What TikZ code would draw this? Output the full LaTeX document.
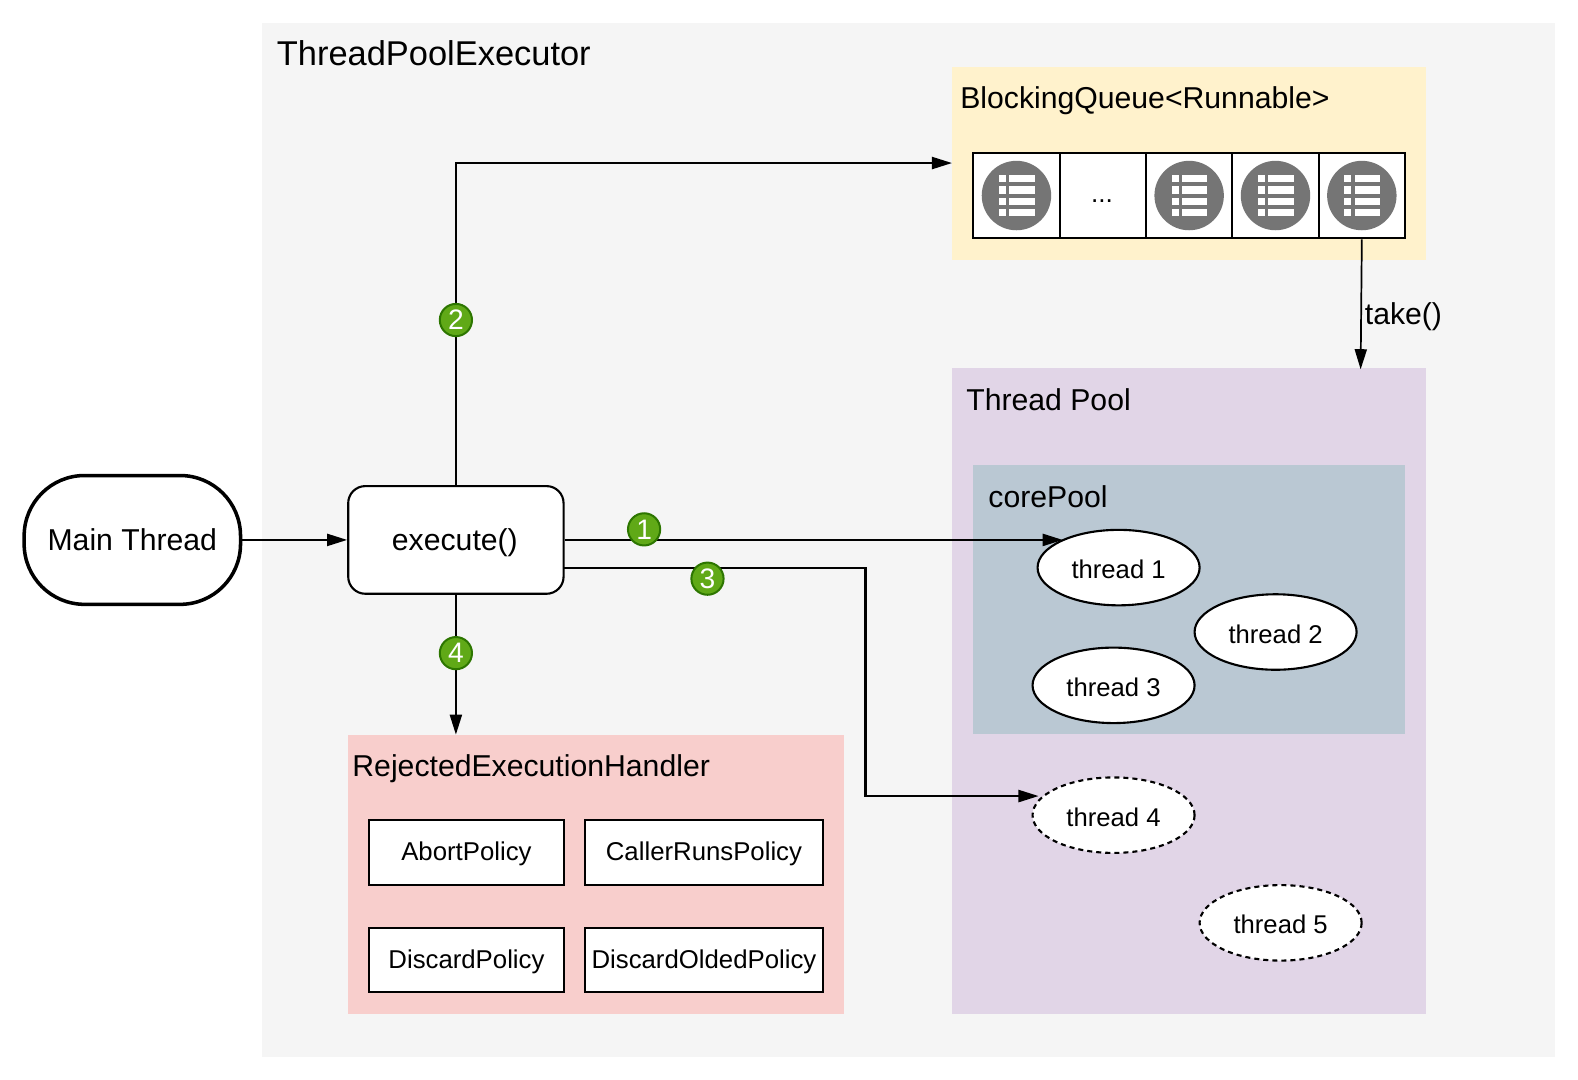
\documentclass[tikz,border=0pt]{standalone}
\usepackage{fontspec}
\setmainfont{Liberation Sans}
\usetikzlibrary{arrows.meta,shapes.geometric}
\definecolor{framebg}{HTML}{F5F5F5}
\definecolor{queuebg}{HTML}{FFF2CC}
\definecolor{poolbg}{HTML}{E1D5E7}
\definecolor{corebg}{HTML}{BAC8D3}
\definecolor{handlerbg}{HTML}{F8CECC}
\definecolor{badgebg}{HTML}{60A917}
\definecolor{badgeline}{HTML}{2D7600}
\definecolor{icongray}{HTML}{757575}
\newcommand{\px}[1]{\fontsize{#1}{#1}\selectfont}
\tikzset{
  panel/.style={anchor=north west,inner sep=0pt,outer sep=0pt},
  paneltitle/.style={anchor=base west,inner sep=0pt,font=\px{30}},
  flow/.style={line width=2.1pt,-{Triangle[length=20pt,width=12pt]}},
  thread/.style={ellipse,draw,line width=2.1pt,fill=white,minimum width=161pt,minimum height=75pt,inner sep=0pt,text height=22pt,text depth=0pt,font=\px{25.5}},
  spare/.style={thread,dashed,dash pattern=on 5pt off 4pt},
  policy/.style={draw,line width=2.1pt,fill=white,minimum height=64pt,inner sep=0pt,text depth=1.5pt,font=\px{25.6}},
  cell/.style={draw,line width=2.1pt,fill=white,minimum width=85.8pt,minimum height=85pt,inner sep=0pt},
  badge/.style={circle,draw=badgeline,line width=2pt,fill=badgebg,text=white,minimum size=32pt,inner sep=0pt,font=\px{28}}
}
\begin{document}
\begin{tikzpicture}[x=1pt,y=-1pt]
\useasboundingbox (0,0) rectangle (1568,1073);
\fill[white] (0,0) rectangle (1568,1073);
\node[panel,fill=framebg,minimum width=1284.5pt,minimum height=1027pt] (frame) at (260.5,23) {};
\node[paneltitle,font=\px{34.2}] (frametitle) at (275,65) {ThreadPoolExecutor};

\node[panel,fill=queuebg,minimum width=471pt,minimum height=191pt] (queue) at (946,67) {};
\node[paneltitle] (queuetitle) at (954,108) {BlockingQueue<Runnable>};
\foreach \n/\x in {1/1010,2/1095.8,3/1181.6,4/1267.4,5/1353.2}
    \node[cell] (cell\n) at (\x,194.3) {};
\foreach \n in {1,3,4,5}{
    \node[circle,fill=icongray,minimum size=69pt,inner sep=0pt] (icon\n) at (cell\n) {};
    \foreach \y in {-16.5,-5.5,5.5,16.5}{
        \fill[white,shift={(cell\n)}] (-17.5,\y-3.5) rectangle (-10.5,\y+3.5);
        \fill[white,shift={(cell\n)}] (-7,\y-3.5) rectangle (18,\y+3.5);
    }
}
\node[font=\px{26},inner sep=0pt] (dots) at (1095,200) {...};

\node[panel,fill=poolbg,minimum width=471pt,minimum height=641.5pt] (pool) at (946,366) {};
\node[paneltitle] (pooltitle) at (960,408) {Thread Pool};
\node[panel,fill=corebg,minimum width=429pt,minimum height=267pt] (core) at (967,462) {};
\node[paneltitle] (coretitle) at (982,504) {corePool};
\node[thread] (thread1) at (1111.5,564) {thread 1};
\node[thread] (thread2) at (1267.5,628) {thread 2};
\node[thread] (thread3) at (1106.5,681) {thread 3};
\node[spare] (thread4) at (1106.5,810) {thread 4};
\node[spare] (thread5) at (1272.5,917) {thread 5};

\node[panel,fill=handlerbg,minimum width=492.5pt,minimum height=277.5pt] (handler) at (346,730) {};
\node[paneltitle] (handlertitle) at (350,772) {RejectedExecutionHandler};
\node[policy,minimum width=193pt] (abort) at (463.5,847) {AbortPolicy};
\node[policy,minimum width=237pt] (caller) at (699.5,847) {CallerRunsPolicy};
\node[policy,minimum width=193pt] (discard) at (463.5,954) {DiscardPolicy};
\node[policy,minimum width=237pt] (oldest) at (699.5,954) {DiscardOldedPolicy};

\node[draw,line width=3.5pt,fill=white,rounded corners=60pt,minimum width=215pt,minimum height=128pt,inner sep=0pt,font=\px{30}] (main) at (131.5,536.5) {Main Thread};
\node[draw,line width=2.1pt,fill=white,rounded corners=17pt,minimum width=214pt,minimum height=107pt,inner sep=0pt,text depth=0pt,font=\px{30}] (execute) at (453,536.5) {\hspace{-2pt}execute()};

\coordinate (corner2) at (453,162);
\coordinate (queuein) at (946,162);
\coordinate (corein) at (1056,536.5);
\coordinate (execout) at (560,564);
\coordinate (corner3) at (860,564);
\coordinate (corner4) at (860,791);
\coordinate (spare4in) at (1032,791);
\coordinate (poolin) at (1352,367);
\coordinate (handlerin) at (453,730);

\draw[flow] (main) -- (execute);
\draw[flow] (execute.north) -- (corner2) -- (queuein);
\draw[flow] (execute.east) -- (corein);
\draw[flow] (execout) -- (corner3) -- (corner4) -- (spare4in);
\draw[flow] (execute.south) -- (handlerin);
\draw[flow,line width=1.7pt] (cell5.south) -- (poolin);
\node[anchor=base west,inner sep=0pt,font=\px{30}] (take) at (1356,322) {take()};

\node[badge] (badge1) at (640,526) {1};
\node[badge] (badge2) at (453,318) {2};
\node[badge] (badge3) at (703,575) {3};
\node[badge] (badge4) at (453,649) {4};
\end{tikzpicture}
\end{document}
